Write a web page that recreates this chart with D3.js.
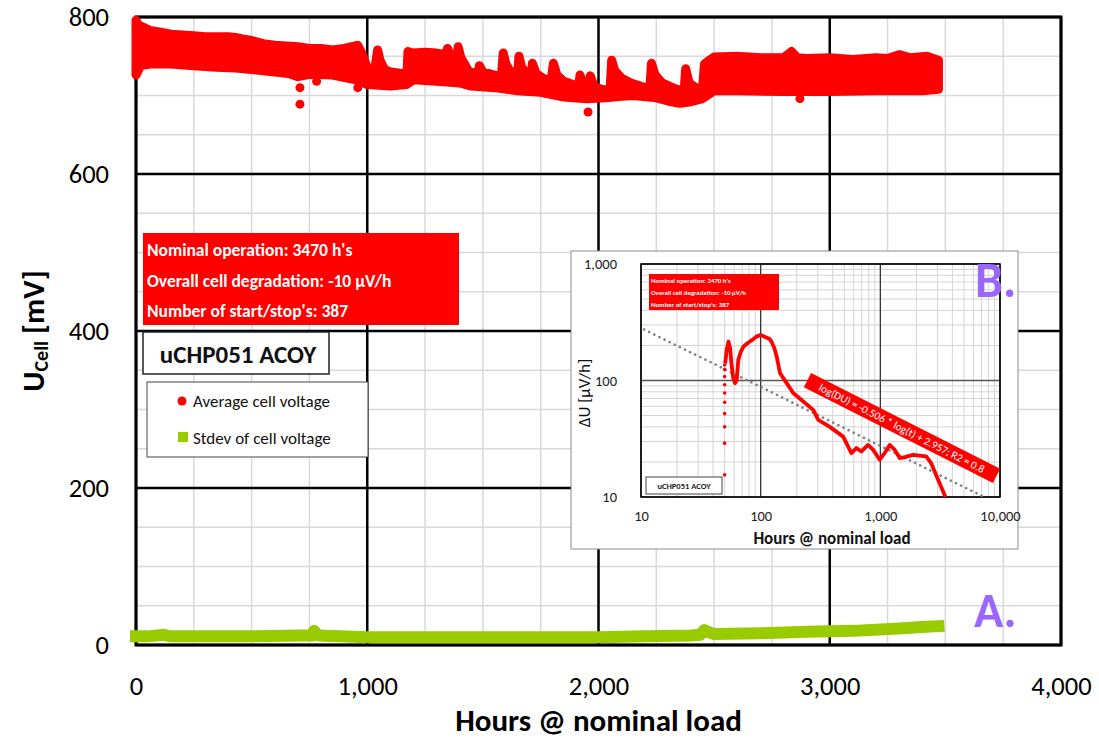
<!DOCTYPE html>
<html>
<head>
<meta charset="utf-8">
<script src="https://cdn.jsdelivr.net/npm/d3@7/dist/d3.min.js"></script>
<style>
  html, body { margin: 0; padding: 0; background: #fff; }
  svg { display: block; font-family: Carlito, Calibri, Lato, sans-serif; }
</style>
</head>
<body>
<svg id="chart" width="1099" height="738"></svg>
<script>
// ---- Long-term cell voltage (mV) versus operating hours ----
// Average cell voltage: upper and lower envelope of the dense point cloud
const upperHours = [0, 10, 30, 60, 100, 150, 200, 250, 300, 350, 400, 430, 460, 500, 550, 600, 650, 700, 750, 800, 850, 900, 958, 980,
  1000, 1030, 1045, 1055, 1075, 1100, 1150, 1172, 1176, 1200, 1250, 1300, 1340, 1347, 1360, 1388, 1393, 1405, 1425, 1440, 1480, 1485, 1500, 1550, 1580,
  1588, 1600, 1620, 1650, 1656, 1668, 1690, 1710, 1714, 1730, 1760, 1795, 1805, 1820, 1850, 1890, 1915, 1920, 1935, 1960, 1965, 1980, 2010, 2050,
  2057, 2070, 2100, 2140, 2180, 2222, 2229, 2245, 2275, 2320, 2370, 2377, 2392, 2420, 2450, 2458, 2480, 2500,
  2600, 2700, 2800, 2835, 2860, 2900, 3000, 3100, 3200, 3250, 3300, 3350, 3420, 3470];
const upperMv = [796, 790, 787, 783, 781, 778, 777, 776, 775, 775, 775, 774, 772, 770, 766, 764, 763, 762, 760, 760, 758, 760, 764, 752,
  735, 728, 758, 745, 733, 730, 728, 728, 756, 754, 755, 754, 752, 760, 750, 750, 762, 748, 738, 730, 728, 738, 730, 726, 724,
  754, 740, 730, 726, 750, 736, 728, 726, 741, 728, 722, 718, 741, 726, 718, 714, 712, 726, 714, 712, 725, 712, 708, 706,
  745, 732, 722, 716, 712, 708, 741, 726, 716, 710, 705, 734, 716, 710, 708, 740, 745, 749,
  750, 748, 748, 756, 748, 747, 748, 746, 748, 747, 752, 748, 750, 745];
const lowerHours = [0, 20, 60, 150, 250, 350, 430, 500, 600, 660, 700, 750, 850, 950, 1000, 1100, 1170, 1200, 1300, 1400, 1450, 1550, 1650, 1750, 1850, 1950, 2030, 2100, 2150, 2250, 2300, 2350, 2400, 2450, 2500, 2600, 2800, 3000, 3200, 3400, 3470];
const lowerMv    = [726, 738, 740, 740, 738, 736, 735, 733, 730, 728, 724, 727, 726, 720, 714, 712, 714, 720, 718, 716, 712, 710, 706, 704, 698, 696, 697, 699, 700, 697, 693, 690, 692, 696, 706, 706, 705, 705, 706, 706, 708];
// isolated low readings below the cloud
const outlierHours = [709, 709, 781, 959, 1955, 2871];
const outlierMv    = [689, 710, 718, 710, 679, 696];

// Standard deviation of cell voltage
const stdevHours = [0, 50, 120, 150, 300, 500, 700, 760, 770, 790, 1000, 1200, 1400, 1600, 1800, 2000, 2200, 2400, 2440, 2458, 2480, 2500, 2700, 2900, 3100, 3300, 3400, 3470];
const stdevMv    = [11, 11, 13, 11, 11, 11, 12, 12, 18, 12, 10, 10, 10, 10, 10, 10, 11, 12, 13, 19, 16, 14, 15, 17, 18, 21, 23, 24];

const xTicks = [0, 1000, 2000, 3000, 4000];
const yTicks = [0, 200, 400, 600, 800];

// ---- Inset: degradation rate (µV/h) on log-log axes ----
const rampHours = [50, 50, 50, 50, 50, 50, 50, 50, 50, 50];
const rampRate  = [15.5, 29, 40, 52, 65, 78, 92, 108, 124, 136];
const rateHours = [50.5, 52, 53.8, 55.5, 57, 59, 61, 63, 65, 68, 72, 78, 85, 92, 100, 110, 118, 123, 130, 136, 145, 165, 187, 227, 275, 303, 378, 489, 573, 631, 695, 789, 869, 987, 1086, 1197, 1316, 1449, 1600, 1871, 2416, 2660, 3121, 3500];
const rateValue = [140, 183, 216, 190, 140, 105, 95, 100, 150, 175, 196, 210, 223, 238, 246, 235, 228, 216, 190, 161, 116, 95, 78, 66, 56, 46, 40, 33, 23.8, 26.3, 24.6, 28, 25.5, 20.9, 23.8, 28, 25.5, 21.6, 22, 23, 22.3, 19.5, 13.2, 10];
const fitSlope = -0.506;
const fitIntercept = 2.957;
const insetXTicks = [10, 100, 1000, 10000];
const insetYTicks = [10, 100, 1000];

const summaryLines = ["Nominal operation: 3470 h's", "Overall cell degradation: -10 µV/h", "Number of start/stop's: 387"];
const cellName = "uCHP051 ACOY";
const legendItems = ["Average cell voltage", "Stdev of cell voltage"];

const RED = "#ff0000", GREEN = "#99cc00", PURPLE = "#9966ff";
const FONT = "Carlito, Calibri, Lato, sans-serif";
const svg = d3.select("#chart");
const fmt = d3.format(",");

// ================= main chart =================
const x = d3.scaleLinear().domain([0, 4000]).range([136, 1061]);
const y = d3.scaleLinear().domain([0, 800]).range([645, 17]);

const grid = svg.append("g");
grid.selectAll(".vmin").data(d3.range(0, 4001, 250)).join("line")
  .attr("x1", d => x(d)).attr("x2", d => x(d)).attr("y1", y(0)).attr("y2", y(800))
  .attr("stroke", "#d9d9d9").attr("stroke-width", 1.5);
grid.selectAll(".hmin").data(d3.range(0, 801, 50)).join("line")
  .attr("y1", d => y(d)).attr("y2", d => y(d)).attr("x1", x(0)).attr("x2", x(4000))
  .attr("stroke", "#d9d9d9").attr("stroke-width", 1.5);
grid.selectAll(".vmaj").data(xTicks).join("line")
  .attr("x1", d => x(d)).attr("x2", d => x(d)).attr("y1", y(0)).attr("y2", y(800))
  .attr("stroke", "#000").attr("stroke-width", 2.5);
grid.selectAll(".hmaj").data(yTicks).join("line")
  .attr("y1", d => y(d)).attr("y2", d => y(d)).attr("x1", x(0)).attr("x2", x(4000))
  .attr("stroke", "#000").attr("stroke-width", 2.5);
svg.append("rect").attr("x", x(0)).attr("y", y(800)).attr("width", x(4000) - x(0)).attr("height", y(0) - y(800))
  .attr("fill", "none").attr("stroke", "#000").attr("stroke-width", 3);

// axes
const xAxis = svg.append("g").attr("transform", `translate(0,${y(0)})`)
  .call(d3.axisBottom(x).tickValues(xTicks).tickFormat(fmt).tickSize(0).tickPadding(31));
const yAxis = svg.append("g").attr("transform", `translate(${x(0)},0)`)
  .call(d3.axisLeft(y).tickValues(yTicks).tickSize(0).tickPadding(27));
[xAxis, yAxis].forEach(a => {
  a.select(".domain").remove();
  a.selectAll("text").attr("font-size", 26.5).attr("fill", "#000").style("font-family", FONT);
});

svg.append("text").attr("x", (x(0) + x(4000)) / 2).attr("y", 731).attr("text-anchor", "middle")
  .attr("font-size", 31).attr("font-weight", "bold").text("Hours @ nominal load");
const yt = svg.append("text").attr("transform", `translate(44,${(y(0) + y(800)) / 2}) rotate(-90)`)
  .attr("text-anchor", "middle").attr("font-size", 31).attr("font-weight", "bold");
yt.append("tspan").text("U");
yt.append("tspan").attr("font-size", 20).attr("baseline-shift", "-22%").text("Cell");
yt.append("tspan").text(" [mV]");

// stdev band
const stdevData = stdevHours.map((h, i) => [h, stdevMv[i]]);
svg.append("path").datum(stdevData)
  .attr("d", d3.line().x(d => x(d[0])).y(d => y(d[1])))
  .attr("fill", "none").attr("stroke", GREEN).attr("stroke-width", 12).attr("stroke-linecap", "square").attr("stroke-linejoin", "round");

// average voltage cloud
const upper = upperHours.map((h, i) => [h, upperMv[i]]);
const lower = lowerHours.map((h, i) => [h, lowerMv[i]]);
const cloud = upper.concat(lower.slice().reverse());
const cloudLine = d3.line().x(d => x(d[0])).y(d => y(d[1]));
svg.append("path").datum(cloud)
  .attr("d", d => cloudLine(d) + "Z")
  .attr("fill", RED).attr("stroke", RED).attr("stroke-width", 9).attr("stroke-linejoin", "round");
svg.selectAll(".outlier").data(outlierHours.map((h, i) => [h, outlierMv[i]])).join("circle")
  .attr("cx", d => x(d[0])).attr("cy", d => y(d[1])).attr("r", 4.5).attr("fill", RED);

// summary box
svg.append("rect").attr("x", 143).attr("y", 233).attr("width", 316).attr("height", 92).attr("fill", RED);
svg.selectAll(".sum").data(summaryLines).join("text")
  .attr("x", 147).attr("y", (d, i) => 256 + i * 30.5)
  .attr("fill", "#fff").attr("font-size", 17.5).attr("font-weight", "bold").text(d => d);

// cell name box
svg.append("rect").attr("x", 143).attr("y", 332).attr("width", 186).attr("height", 42)
  .attr("fill", "#fff").attr("stroke", "#222").attr("stroke-width", 1.5);
svg.append("text").attr("x", 238).attr("y", 363).attr("text-anchor", "middle")
  .attr("font-size", 25).attr("font-weight", "bold").attr("fill", "#111").text(cellName);

// legend
svg.append("rect").attr("x", 147).attr("y", 382).attr("width", 221).attr("height", 75)
  .attr("fill", "#fff").attr("stroke", "#444").attr("stroke-width", 1);
svg.append("circle").attr("cx", 182).attr("cy", 401).attr("r", 4.5).attr("fill", RED);
svg.append("rect").attr("x", 178).attr("y", 432).attr("width", 10).attr("height", 10).attr("fill", GREEN);
svg.selectAll(".leg").data(legendItems).join("text")
  .attr("x", 193).attr("y", (d, i) => 407 + i * 37)
  .attr("font-size", 17).attr("fill", "#111").text(d => d);

// ================= inset =================
svg.append("rect").attr("x", 571).attr("y", 251).attr("width", 447).attr("height", 298)
  .attr("fill", "#fff").attr("stroke", "#8c8c8c").attr("stroke-width", 1);

const ix = d3.scaleLog().domain([10, 10000]).range([641, 1000]);
const iy = d3.scaleLog().domain([10, 1000]).range([497, 264]);

const ig = svg.append("g");
const xMinor = [], yMinor = [];
[10, 100, 1000].forEach(b => d3.range(2, 10).forEach(k => xMinor.push(b * k)));
[10, 100].forEach(b => d3.range(2, 10).forEach(k => yMinor.push(b * k)));
ig.selectAll(".ixm").data(xMinor).join("line")
  .attr("x1", d => ix(d)).attr("x2", d => ix(d)).attr("y1", iy(10)).attr("y2", iy(1000))
  .attr("stroke", "#d4d4d4").attr("stroke-width", 1);
ig.selectAll(".iym").data(yMinor).join("line")
  .attr("y1", d => iy(d)).attr("y2", d => iy(d)).attr("x1", ix(10)).attr("x2", ix(10000))
  .attr("stroke", "#d4d4d4").attr("stroke-width", 1);
ig.selectAll(".ixM").data(insetXTicks).join("line")
  .attr("x1", d => ix(d)).attr("x2", d => ix(d)).attr("y1", iy(10)).attr("y2", iy(1000))
  .attr("stroke", "#333").attr("stroke-width", 1.3);
ig.selectAll(".iyM").data(insetYTicks).join("line")
  .attr("y1", d => iy(d)).attr("y2", d => iy(d)).attr("x1", ix(10)).attr("x2", ix(10000))
  .attr("stroke", "#555").attr("stroke-width", 1.5);
ig.append("rect").attr("x", ix(10)).attr("y", iy(1000)).attr("width", ix(10000) - ix(10)).attr("height", iy(10) - iy(1000))
  .attr("fill", "none").attr("stroke", "#000").attr("stroke-width", 1.5);

const ixAxis = svg.append("g").attr("transform", `translate(0,${iy(10)})`)
  .call(d3.axisBottom(ix).tickValues(insetXTicks).tickFormat(fmt).tickSize(0).tickPadding(14));
const iyAxis = svg.append("g").attr("transform", `translate(${ix(10)},0)`)
  .call(d3.axisLeft(iy).tickValues(insetYTicks).tickFormat(fmt).tickSize(0).tickPadding(24));
[ixAxis, iyAxis].forEach(a => {
  a.select(".domain").remove();
  a.selectAll("text").attr("font-size", 14.5).attr("fill", "#222").style("font-family", FONT);
});
svg.append("text").attr("x", 832).attr("y", 544).attr("text-anchor", "middle")
  .attr("font-size", 17).attr("font-weight", 600).attr("fill", "#111").text("Hours @ nominal load");
svg.append("text").attr("transform", `translate(590,393) rotate(-90)`).attr("text-anchor", "middle")
  .attr("font-size", 17).attr("fill", "#111").text("ΔU [µV/h]");

// power-law fit, drawn from the stated coefficients
const fitEnd = Math.pow(10, (fitIntercept - 1) / -fitSlope);
const fitRate = t => Math.pow(10, fitIntercept + fitSlope * Math.log10(t));
const fitHours = [10.6, fitEnd];
svg.append("path").datum(fitHours)
  .attr("d", d3.line().x(t => ix(t)).y(t => iy(fitRate(t))))
  .attr("fill", "none").attr("stroke", "#808080").attr("stroke-width", 2.6)
  .attr("stroke-dasharray", "0.1 5.6").attr("stroke-linecap", "round");

// degradation rate curve
svg.append("path").datum(rateHours.map((h, i) => [h, rateValue[i]]))
  .attr("d", d3.line().x(d => ix(d[0])).y(d => iy(d[1])))
  .attr("fill", "none").attr("stroke", RED).attr("stroke-width", 3.8).attr("stroke-linejoin", "round");
svg.selectAll(".ramp").data(rampHours.map((h, i) => [h, rampRate[i]])).join("circle")
  .attr("cx", d => ix(d[0])).attr("cy", d => iy(d[1])).attr("r", 1.8).attr("fill", RED);

// inset summary box
svg.append("rect").attr("x", 649).attr("y", 274).attr("width", 130).attr("height", 36).attr("fill", RED);
svg.selectAll(".isum").data(summaryLines).join("text")
  .attr("x", 651).attr("y", (d, i) => 283 + i * 12)
  .attr("fill", "#fff").attr("font-size", 6.8).attr("font-weight", "bold").text(d => d);

// inset cell name
svg.append("rect").attr("x", 646).attr("y", 477).attr("width", 76).attr("height", 17)
  .attr("fill", "#fff").attr("stroke", "#444").attr("stroke-width", 1);
svg.append("text").attr("x", 684).attr("y", 489).attr("text-anchor", "middle")
  .attr("font-size", 8.5).attr("font-weight", 600).attr("fill", "#222").text(cellName);

// fit equation label
const eq = svg.append("g").attr("transform", "translate(902,428) rotate(26.9)");
eq.append("rect").attr("x", -106).attr("y", -8).attr("width", 212).attr("height", 16).attr("fill", RED);
eq.append("text").attr("x", 0).attr("y", 4).attr("text-anchor", "middle")
  .attr("font-size", 11).attr("fill", "#fff")
  .text(`log(DU) = ${fitSlope} * log(t) + ${fitIntercept}; R2 = 0.8`);

// panel letters
svg.append("text").attr("x", 975).attr("y", 297).attr("font-size", 50).attr("font-weight", "bold").attr("fill", PURPLE).text("B.");
svg.append("text").attr("x", 974).attr("y", 627).attr("font-size", 48).attr("font-weight", "bold").attr("fill", PURPLE).text("A.");
</script>
</body>
</html>
